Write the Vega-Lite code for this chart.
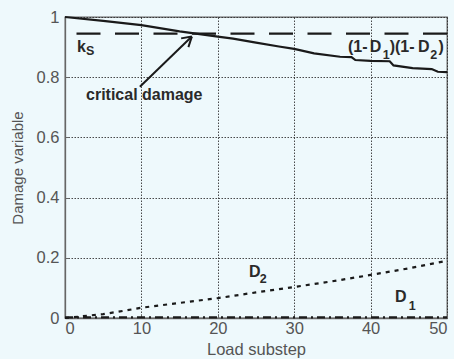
{
  "$schema": "https://vega.github.io/schema/vega-lite/v6.json",
  "width": 382,
  "height": 301,
  "autosize": "none",
  "padding": {"left": 65, "top": 17, "right": 7, "bottom": 41},
  "background": "#eef9fc",
  "config": {
    "view": {"stroke": "#666666", "strokeWidth": 1.3, "fill": "#eef9fc"},
    "font": "Liberation Sans",
    "axis": {
      "labelFont": "Liberation Sans",
      "titleFont": "Liberation Sans",
      "labelFontSize": 16.5,
      "labelColor": "#555555",
      "titleFontWeight": "normal",
      "titleColor": "#555555",
      "ticks": true,
      "tickSize": -4,
      "tickColor": "#666666",
      "domainColor": "#666666",
      "domainWidth": 1.3,
      "gridColor": "#2a2a2a",
      "gridDash": [1.5, 1.5],
      "gridWidth": 1,
      "gridOpacity": 0.85
    }
  },
  "datasets": {
    "curves": [
      {"step": 0, "value": 1.0, "series": "product"},
      {"step": 5, "value": 0.987, "series": "product"},
      {"step": 10, "value": 0.973, "series": "product"},
      {"step": 15, "value": 0.952, "series": "product"},
      {"step": 20, "value": 0.935, "series": "product"},
      {"step": 22, "value": 0.928, "series": "product"},
      {"step": 25, "value": 0.915, "series": "product"},
      {"step": 28, "value": 0.902, "series": "product"},
      {"step": 30, "value": 0.894, "series": "product"},
      {"step": 32.6, "value": 0.879, "series": "product"},
      {"step": 36, "value": 0.868, "series": "product"},
      {"step": 37.5, "value": 0.867, "series": "product"},
      {"step": 38, "value": 0.857, "series": "product"},
      {"step": 40, "value": 0.854, "series": "product"},
      {"step": 42.5, "value": 0.853, "series": "product"},
      {"step": 43, "value": 0.839, "series": "product"},
      {"step": 45.5, "value": 0.83, "series": "product"},
      {"step": 48, "value": 0.827, "series": "product"},
      {"step": 48.8, "value": 0.818, "series": "product"},
      {"step": 50, "value": 0.817, "series": "product"},
      {"step": 0, "value": 0.0, "series": "D2"},
      {"step": 2, "value": 0.005, "series": "D2"},
      {"step": 5, "value": 0.013, "series": "D2"},
      {"step": 7, "value": 0.021, "series": "D2"},
      {"step": 10, "value": 0.034, "series": "D2"},
      {"step": 15, "value": 0.05, "series": "D2"},
      {"step": 20, "value": 0.066, "series": "D2"},
      {"step": 25, "value": 0.085, "series": "D2"},
      {"step": 30, "value": 0.103, "series": "D2"},
      {"step": 35, "value": 0.122, "series": "D2"},
      {"step": 40, "value": 0.143, "series": "D2"},
      {"step": 45, "value": 0.165, "series": "D2"},
      {"step": 50, "value": 0.19, "series": "D2"},
      {"step": 0, "value": 0.002, "series": "D1"},
      {"step": 50, "value": 0.002, "series": "D1"}
    ],
    "notes": [
      {"step": 1.57, "value": 0.885, "text": "k", "size": "main"},
      {"step": 2.75, "value": 0.874, "text": "S", "size": "sub"},
      {"step": 2.75, "value": 0.724, "text": "critical damage", "size": "main"},
      {"step": 37.04, "value": 0.883, "text": "(1-", "size": "main"},
      {"step": 39.9, "value": 0.883, "text": "D", "size": "main"},
      {"step": 41.6, "value": 0.862, "text": "1", "size": "sub"},
      {"step": 42.5, "value": 0.883, "text": ")(1-", "size": "main"},
      {"step": 46.2, "value": 0.883, "text": "D", "size": "main"},
      {"step": 47.8, "value": 0.862, "text": "2", "size": "sub"},
      {"step": 48.9, "value": 0.883, "text": ")", "size": "main"},
      {"step": 24.1, "value": 0.136, "text": "D", "size": "main"},
      {"step": 25.5, "value": 0.116, "text": "2", "size": "sub"},
      {"step": 43.2, "value": 0.053, "text": "D", "size": "main"},
      {"step": 45.0, "value": 0.027, "text": "1", "size": "sub"}
    ],
    "arrow": [
      {"x1": 9.8, "y1": 0.768, "x2": 16.6, "y2": 0.935},
      {"x1": 15.2, "y1": 0.929, "x2": 16.6, "y2": 0.935},
      {"x1": 16.15, "y1": 0.9, "x2": 16.6, "y2": 0.935}
    ]
  },
  "encoding": {
    "x": {
      "type": "quantitative",
      "scale": {"domain": [0, 50], "nice": false},
      "axis": {
        "title": "Load substep",
        "titleFontSize": 16.5,
        "titleBaseline": "alphabetic",
        "titleY": 36,
        "values": [0, 10, 20, 30, 40, 50],
        "labelPadding": 6
      }
    },
    "y": {
      "type": "quantitative",
      "scale": {"domain": [0, 1], "nice": false},
      "axis": {
        "title": "Damage variable",
        "titleFontSize": 15,
        "titleBaseline": "middle",
        "titleX": -48,
        "values": [0, 0.2, 0.4, 0.6, 0.8, 1],
        "format": "~g",
        "labelPadding": 10
      }
    }
  },
  "layer": [
    {
      "data": {"name": "curves"},
      "transform": [{"filter": "datum.series === 'product'"}],
      "mark": {"type": "line", "color": "#1a1a1a", "strokeWidth": 2.2},
      "encoding": {"x": {"field": "step"}, "y": {"field": "value"}}
    },
    {
      "data": {"name": "curves"},
      "transform": [{"filter": "datum.series === 'D2'"}],
      "mark": {"type": "line", "color": "#1a1a1a", "strokeWidth": 2.2, "strokeDash": [4, 5]},
      "encoding": {"x": {"field": "step"}, "y": {"field": "value"}}
    },
    {
      "data": {"name": "curves"},
      "transform": [{"filter": "datum.series === 'D1'"}],
      "mark": {"type": "line", "color": "#1a1a1a", "strokeWidth": 2.2, "strokeDash": [8, 4, 2, 4]},
      "encoding": {"x": {"field": "step"}, "y": {"field": "value"}}
    },
    {
      "data": {"values": [{"ks": 0.945}]},
      "mark": {"type": "rule", "color": "#1a1a1a", "strokeWidth": 2.2, "strokeDash": [24, 14.5]},
      "encoding": {"y": {"field": "ks", "type": "quantitative"}}
    },
    {
      "data": {"name": "arrow"},
      "mark": {"type": "rule", "color": "#1a1a1a", "strokeWidth": 2},
      "encoding": {
        "x": {"field": "x1", "type": "quantitative"},
        "y": {"field": "y1", "type": "quantitative"},
        "x2": {"field": "x2"},
        "y2": {"field": "y2"}
      }
    },
    {
      "data": {"name": "notes"},
      "transform": [{"filter": "datum.size === 'main'"}],
      "mark": {"type": "text", "align": "left", "baseline": "alphabetic", "fontSize": 16, "fontWeight": "bold", "color": "#2a2a2a"},
      "encoding": {"x": {"field": "step"}, "y": {"field": "value"}, "text": {"field": "text"}}
    },
    {
      "data": {"name": "notes"},
      "transform": [{"filter": "datum.size === 'sub'"}],
      "mark": {"type": "text", "align": "left", "baseline": "alphabetic", "fontSize": 12.5, "fontWeight": "bold", "color": "#2a2a2a"},
      "encoding": {"x": {"field": "step"}, "y": {"field": "value"}, "text": {"field": "text"}}
    }
  ]
}
